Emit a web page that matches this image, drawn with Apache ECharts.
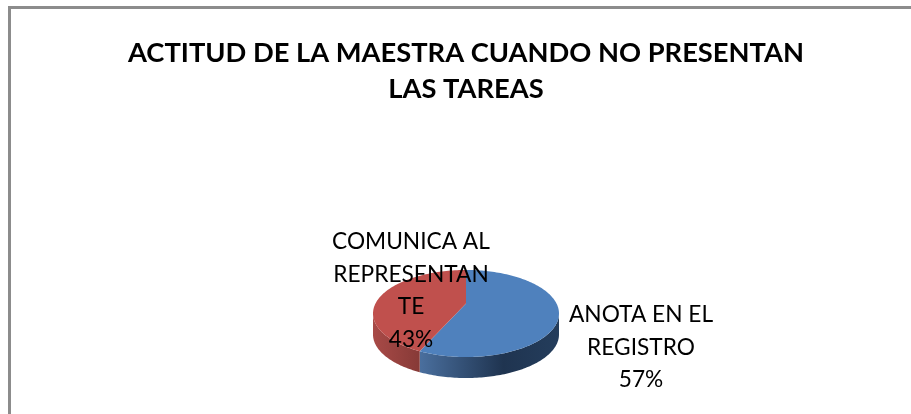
<!DOCTYPE html>
<html><head><meta charset="utf-8">
<style>html,body{margin:0;padding:0;background:#fff}#c{width:911px;height:414px}</style>
<script src="https://cdn.jsdelivr.net/npm/echarts@6/dist/echarts.min.js"></script>
</head><body><div id="c"></div>
<script>
const titleText = "ACTITUD DE LA MAESTRA CUANDO NO PRESENTAN\nLAS TAREAS";
const categories = ["ANOTA EN EL\nREGISTRO", "COMUNICA AL\nREPRESENTAN\nTE"];
const values = [57, 43];
const topColors = ["#4f81bd", "#c0504d"];
const sideStops = [
  [[0, "#4a6f9e"], [0.6, "#1f3450"], [1, "#243d5c"]],
  [[0, "#a84a47"], [1, "#873a37"]]
];
const labelPos = [[641, 347.5], [411, 290.5]];

const cx = 466, cy = 313.5, rx = 93, ry = 43.5, depth = 21, apexUp = 10, warp = 0.105;
const total = values.reduce((a, b) => a + b, 0);
const pt = (t, dy = 0) => {
  const w = t + warp * Math.sin(2 * t);
  return [cx + rx * Math.sin(w), cy + dy - ry * Math.cos(w)];
};

function arc(a, b, dy) {
  const n = Math.max(2, Math.ceil(Math.abs(b - a) / 0.02)), out = [];
  for (let i = 0; i <= n; i++) out.push(pt(a + (b - a) * i / n, dy));
  return out;
}

const chart = echarts.init(document.getElementById("c"), null, { renderer: "canvas" });
chart.setOption({
  animation: false,
  backgroundColor: "#ffffff",
  title: {
    text: titleText, left: 461, top: 30, textAlign: "center",
    textStyle: { fontFamily: "Lato", fontWeight: "bold", fontSize: 27.3, lineHeight: 36, color: "#000" }
  },
  graphic: [{
    type: "polyline", silent: true,
    shape: { points: [[9.5, 414], [9.5, 7.5], [911, 7.5]] },
    style: { stroke: "#8c8c8c", lineWidth: 3, fill: null }
  }],
  xAxis: { show: false, type: "value" }, yAxis: { show: false, type: "value" },
  series: [{
    type: "custom",
    coordinateSystem: "none",
    data: values.map((v, i) => ({ value: v, name: categories[i] })),
    renderItem(params, api) {
      const i = params.dataIndex;
      let before = 0;
      for (let k = 0; k < i; k++) before += values[k];
      const a = before / total * 2 * Math.PI;
      const b = (before + values[i]) / total * 2 * Math.PI;
      const children = [];
      const lo = Math.max(a, Math.PI / 2), hi = Math.min(b, 3 * Math.PI / 2);
      if (hi > lo) {
        children.push({
          type: "polygon",
          shape: { points: arc(lo, hi, 0).concat(arc(hi, lo, depth)) },
          style: {
            fill: new echarts.graphic.LinearGradient(0, 0, 1, 0,
              sideStops[i].map(s => ({ offset: s[0], color: s[1] })))
          }
        });
      }
      children.push({
        type: "polygon",
        shape: { points: [[cx, cy - apexUp]].concat(arc(a, b, 0)) },
        style: { fill: topColors[i] }
      });
      children.push({
        type: "text", z2: 50,
        style: {
          x: labelPos[i][0], y: labelPos[i][1],
          text: categories[i] + "\n" + values[i] + "%",
          align: "center", verticalAlign: "middle",
          fontFamily: "Lato", fontSize: 22.7, lineHeight: 32.5, fill: "#000"
        }
      });
      return { type: "group", children };
    }
  }]
});
</script></body></html>
